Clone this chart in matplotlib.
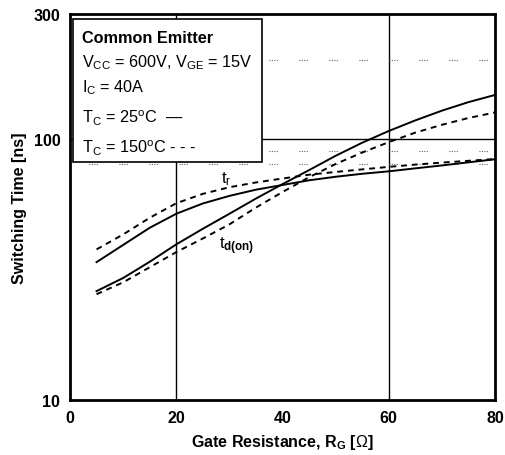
import matplotlib
matplotlib.use("Agg")
import matplotlib.pyplot as plt
from matplotlib.patches import Rectangle

plt.rcParams['font.family'] = ['Liberation Sans', 'DejaVu Sans']
plt.rcParams['mathtext.fontset'] = 'custom'
plt.rcParams['mathtext.rm'] = 'Liberation Sans'
plt.rcParams['mathtext.it'] = 'Liberation Sans'
plt.rcParams['mathtext.bf'] = 'Liberation Sans:bold'

# gate resistance [ohm]
rg = [5, 10, 15, 20, 25, 30, 35, 40, 45, 50, 55, 60, 65, 70, 75, 80]
# rise time t_r [ns]
tr_25 = [33.7, 39.2, 45.6, 51.6, 56.5, 60.4, 63.8, 66.5, 69.3, 71.5, 73.4, 75, 77, 79, 81.2, 83.4]
tr_150 = [37.7, 43, 49.8, 56.6, 61.5, 65.2, 68, 70.4, 72.8, 74.6, 76.3, 78, 79.6, 81, 82.3, 83.6]
# turn-on delay t_d(on) [ns]
td_25 = [26.1, 29.3, 33.8, 39.4, 45.2, 51.6, 59, 67, 75.8, 86, 96.5, 107, 117.5, 128, 138, 147]
td_150 = [25.4, 28.2, 32.2, 36.8, 41.5, 47, 54.5, 62.5, 71.2, 80, 88.5, 97, 105.5, 113, 120, 126]

dotted_levels = [80, 90, 200]

fig = plt.figure(figsize=(5.05, 4.56), dpi=100)
ax = fig.add_axes([0.1386, 0.1206, 0.8416, 0.8465])

ax.set_yscale('log')
ax.set_xlim(0, 80)
ax.set_ylim(10, 300)

for v in [20, 60]:
    ax.axvline(v, color='black', lw=1.0, zorder=1)
ax.axhline(100, color='black', lw=1.0, zorder=1)
for v in dotted_levels:
    ax.axhline(v, color='0.4', lw=0.8,
               ls=(10, (1, 1.2, 1, 1.2, 1, 1.2, 1, 19.4)), zorder=1)

ax.plot(rg, tr_25, color='black', lw=1.4, zorder=3)
ax.plot(rg, tr_150, color='black', lw=1.4, ls=(0, (3, 2.5)), zorder=3)
ax.plot(rg, td_25, color='black', lw=1.4, zorder=3)
ax.plot(rg, td_150, color='black', lw=1.4, ls=(0, (3, 2.5)), zorder=3)

ax.text(28.4, 68, 't$_\\mathregular{r}$', fontsize=12, zorder=4)
ax.text(28.0, 38, 't$_\\mathbf{d(on)}$', fontsize=12, zorder=4)

ax.set_yticks([10, 100, 300])
ax.set_yticklabels(['10', '100', '300'])
ax.yaxis.set_minor_locator(matplotlib.ticker.NullLocator())
ax.set_xticks([0, 20, 40, 60, 80])
ax.tick_params(length=0, labelsize=11.5, pad=7)
for lab in ax.get_xticklabels() + ax.get_yticklabels():
    lab.set_fontweight('bold')

for s in ax.spines.values():
    s.set_linewidth(2)

ax.set_xlabel('Gate Resistance, R$_\\mathbf{G}$ [$\\Omega$]', fontsize=11.5, fontweight='bold', labelpad=5)
ax.set_ylabel('Switching Time [ns]', fontsize=11.5, fontweight='bold', labelpad=5)

# condition box
box = Rectangle((0.007, 0.6166), 0.445, 0.3704, transform=ax.transAxes, fill=True,
                facecolor='white', edgecolor='black', lw=1.2, zorder=5)
ax.add_patch(box)
lines = [
    ('Common Emitter', 'bold', 0.938),
    ('V$_\\mathregular{CC}$ = 600V, V$_\\mathregular{GE}$ = 15V', 'normal', 0.876),
    ('I$_\\mathregular{C}$ = 40A', 'normal', 0.811),
    ('T$_\\mathregular{C}$ = 25$^\\mathregular{o}$C  \u2014', 'normal', 0.733),
    ('T$_\\mathregular{C}$ = 150$^\\mathregular{o}$C - - -', 'normal', 0.655),
]
for txt, w, yy in lines:
    ax.text(0.028, yy, txt, transform=ax.transAxes, fontsize=11.7, fontweight=w,
            va='center', ha='left', zorder=6)

fig.savefig('out.png', dpi=100)
